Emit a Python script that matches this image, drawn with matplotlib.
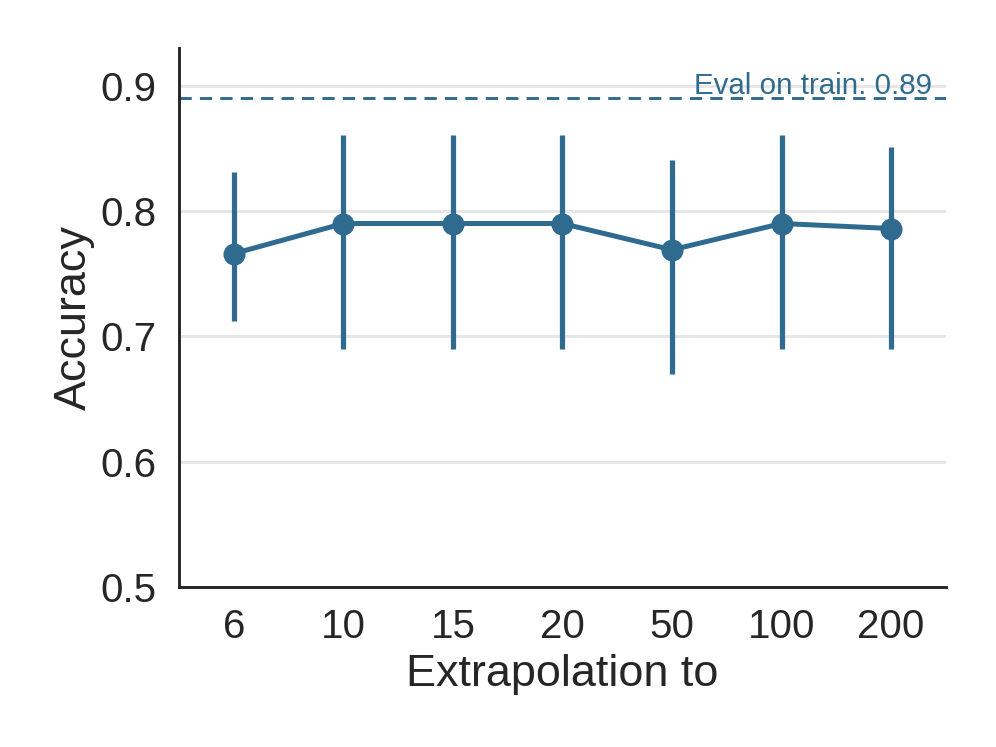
import matplotlib
matplotlib.use("Agg")
import matplotlib.pyplot as plt

categories = ["6", "10", "15", "20", "50", "100", "200"]
accuracy = [0.766, 0.790, 0.790, 0.790, 0.769, 0.790, 0.786]
ci_low = [0.712, 0.690, 0.690, 0.690, 0.670, 0.690, 0.690]
ci_high = [0.831, 0.861, 0.861, 0.861, 0.841, 0.861, 0.851]
train_acc = 0.89
yticks = [0.5, 0.6, 0.7, 0.8, 0.9]

color = "#2f6a8f"
dark = "#262626"

plt.rcParams["font.family"] = ["Liberation Sans", "DejaVu Sans"]

fig = plt.figure(figsize=(3.32, 2.49), dpi=300)
ax = fig.add_axes([0.1797, 0.2142, 0.77, 0.7215])

x = list(range(len(categories)))
for xi, lo, hi in zip(x, ci_low, ci_high):
    ax.plot([xi, xi], [lo, hi], color=color, lw=1.25, solid_capstyle="butt", zorder=3)
ax.plot(x, accuracy, color=color, lw=1.2, marker="o", markersize=4.3, zorder=4)

ax.axhline(train_acc, color=color, lw=0.7, linestyle=(0, (4.2, 2.8)), zorder=2)
ax.text(6.37, train_acc + 0.0035, f"Eval on train: {train_acc}", color=color,
        fontsize=7.1, ha="right", va="baseline", zorder=5)

ax.set_xlim(-0.5, 6.5)
ax.set_ylim(0.5, 0.93)
ax.set_xticks(x)
ax.set_xticklabels(categories)
ax.set_yticks(yticks)
ax.set_yticklabels([f"{v:.1f}" for v in yticks])

ax.yaxis.grid(True, color="#e6e6e6", lw=0.7, zorder=0)
ax.set_axisbelow(True)
for s in ["top", "right"]:
    ax.spines[s].set_visible(False)
for s in ["left", "bottom"]:
    ax.spines[s].set_color(dark)
    ax.spines[s].set_linewidth(0.7)

ax.tick_params(axis="both", length=0, labelsize=9.7, colors=dark)
ax.tick_params(axis="y", pad=5.5)
ax.tick_params(axis="x", pad=5)
ax.set_xlabel("Extrapolation to", fontsize=10.8, color=dark, labelpad=2)
ax.set_ylabel("Accuracy", fontsize=10.8, color=dark, labelpad=1.2)

fig.savefig("out.png", dpi=300)
